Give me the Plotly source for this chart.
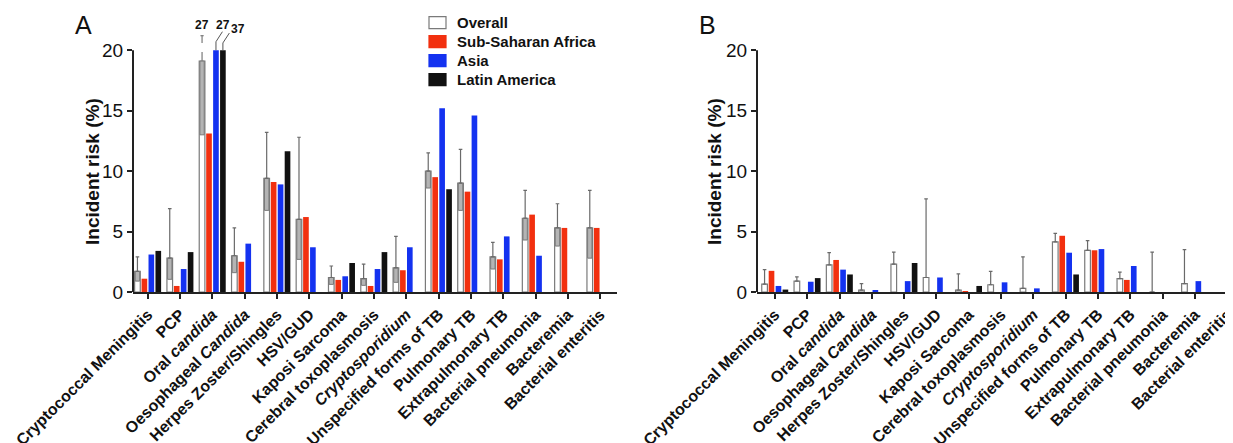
import plotly.graph_objects as go

categories = [
    "Cryptococcal Meningitis", "PCP", "Oral <i>candida</i>", "Oesophageal <i>Candida</i>",
    "Herpes Zoster/Shingles", "HSV/GUD", "Kaposi Sarcoma", "Cerebral toxoplasmosis",
    "<i>Cryptosporidium</i>", "Unspecified forms of TB", "Pulmonary TB", "Extrapulmonary TB",
    "Bacterial pneumonia", "Bacteremia", "Bacterial enteritis",
]
series_names = ["Overall", "Sub-Saharan Africa", "Asia", "Latin America"]

# Panel A
a_overall = [1.7, 2.8, 19.1, 3.0, 9.4, 6.0, 1.2, 1.1, 2.0, 10.0, 9.0, 2.9, 6.1, 5.3, 5.3]
a_lower = [0.9, 1.05, 13.0, 1.6, 6.75, 2.7, 0.63, 0.55, 0.8, 8.6, 6.75, 1.9, 4.3, 3.8, 2.8]
a_upper = [2.9, 6.9, 27, 5.3, 13.2, 12.8, 2.15, 2.3, 4.6, 11.5, 11.8, 4.1, 8.4, 7.3, 8.4]
a_ssa = [1.1, 0.5, 13.1, 2.5, 9.1, 6.2, 1.0, 0.5, 1.8, 9.5, 8.3, 2.7, 6.4, 5.3, 5.3]
a_asia = [3.1, 1.9, 27, 4.0, 8.9, 3.7, 1.3, 1.9, 3.7, 15.2, 14.6, 4.6, 3.0, None, None]
a_latam = [3.4, 3.3, 37, None, 11.65, None, 2.4, 3.3, None, 8.5, None, None, None, None, None]

# Panel B
b_overall = [0.65, 0.9, 2.25, 0.15, 2.3, 1.2, 0.15, 0.6, 0.3, 4.15, 3.45, 1.1, 0.0, 0.7, None]
b_upper = [1.85, 1.25, 3.25, 0.7, 3.3, 7.7, 1.5, 1.7, 2.9, 4.85, 4.25, 1.65, 3.3, 3.5, None]
b_ssa = [1.75, None, 2.65, None, None, None, 0.05, None, None, 4.65, 3.45, 1.0, None, None, None]
b_asia = [0.5, 0.85, 1.85, 0.15, 0.9, 1.2, None, 0.8, 0.3, 3.25, 3.55, 2.15, None, 0.9, None]
b_latam = [0.2, 1.15, 1.45, None, 2.4, None, 0.5, None, None, 1.45, None, None, None, None, None]

y_title = "Incident risk (%)"
y_ticks = [0, 5, 10, 15, 20]

AXIS_MAX = 20          # top of the drawn y axis; taller values are broken
BREAK_TOP = 21.2       # where a broken whisker stops
RED = "#F2300F"
BLUE = "#1432F0"
BLACK = "#111111"
FONT = "Liberation Sans"
series_fill = ["white", RED, BLUE, BLACK]

offsets = [-0.41, -0.195, 0.02, 0.235]
bw = 0.175
xs = list(range(len(categories)))

# figure geometry (page body has an 8px margin)
W, H = 1225, 435
T, B = 6, 151
PH = H - T - B


def py(px):
    """figure pixel row -> paper y"""
    return (H - B - px) / PH


fig = go.Figure()


def clip(vals):
    return [None if v is None else min(v, AXIS_MAX) for v in vals]


def add_panel(ax, overall, lower, upper, ssa, asia, latam):
    xa = "x" if ax == 1 else "x2"
    ya = "y" if ax == 1 else "y2"
    fig.add_trace(go.Bar(
        x=xs, y=clip(overall), offset=offsets[0], width=bw, name=series_names[0],
        marker=dict(color="white", line=dict(color="#7a7a7a", width=1.2)),
        xaxis=xa, yaxis=ya, showlegend=False))
    if lower is not None:
        fig.add_trace(go.Bar(
            x=xs, y=[min(o, AXIS_MAX) - l for o, l in zip(overall, lower)], base=lower,
            offset=offsets[0] + 0.02, width=bw - 0.04,
            marker=dict(color="#b4b4b4", line=dict(color="#7a7a7a", width=1)),
            xaxis=xa, yaxis=ya, showlegend=False, hoverinfo="skip"))
    for vals, col, off, nm in [(ssa, RED, offsets[1], series_names[1]),
                               (asia, BLUE, offsets[2], series_names[2]),
                               (latam, BLACK, offsets[3], series_names[3])]:
        fig.add_trace(go.Bar(
            x=xs, y=clip(vals), offset=off, width=bw, name=nm,
            marker=dict(color=col, line=dict(width=0)),
            xaxis=xa, yaxis=ya, showlegend=False))
    ex, ey, eu = [], [], []
    for i, (o, u) in enumerate(zip(overall, upper)):
        if o is None or u is None:
            continue
        if u > AXIS_MAX:
            cx = i + offsets[0] + bw / 2
            fig.add_shape(type="line", xref=xa, yref=ya, x0=cx, x1=cx, y0=o, y1=BREAK_TOP,
                          line=dict(color="#7a7a7a", width=1.2, dash="dash"))
            fig.add_shape(type="line", xref=xa, yref=ya, x0=cx - 0.05, x1=cx + 0.05,
                          y0=BREAK_TOP, y1=BREAK_TOP, line=dict(color="#7a7a7a", width=1.2))
            fig.add_annotation(x=cx, y=BREAK_TOP, xref=xa, yref=ya, text=f"<b>{u:g}</b>",
                               showarrow=False, yanchor="bottom", yshift=2,
                               font=dict(family=FONT, size=12, color="#111"))
            continue
        ex.append(i + offsets[0] + bw / 2)
        ey.append(o)
        eu.append(u - o)
    fig.add_trace(go.Scatter(
        x=ex, y=ey, mode="markers", marker=dict(size=1, opacity=0),
        error_y=dict(type="data", array=eu, arrayminus=[0] * len(eu), symmetric=False,
                     color="#6a6a6a", thickness=1.2, width=1.8),
        xaxis=xa, yaxis=ya, showlegend=False, hoverinfo="skip"))
    # leader labels for truncated regional bars
    for vals, off, k in [(asia, offsets[2], 0), (latam, offsets[3], 1)]:
        for i, v in enumerate(vals):
            if v is not None and v > AXIS_MAX:
                cx = i + off + bw / 2
                y_knee = AXIS_MAX + 0.7 - 0.1 * k
                y_end = AXIS_MAX + 1.53 - 0.11 * k
                fig.add_shape(type="line", xref=xa, yref=ya, x0=cx, x1=cx,
                              y0=AXIS_MAX, y1=y_knee, line=dict(color="#555", width=1))
                fig.add_shape(type="line", xref=xa, yref=ya, x0=cx, x1=cx + 0.2,
                              y0=y_knee, y1=y_end, line=dict(color="#555", width=1))
                if k == 0:
                    fig.add_annotation(x=cx + 0.22, y=y_end, xref=xa, yref=ya,
                                       text=f"<b>{v:g}</b>", showarrow=False,
                                       xanchor="center", yanchor="bottom", yshift=-2,
                                       font=dict(family=FONT, size=12, color="#111"))
                else:
                    fig.add_annotation(x=cx + 0.19, y=y_end, xref=xa, yref=ya,
                                       text=f"<b>{v:g}</b>", showarrow=False,
                                       xanchor="left", yanchor="middle", yshift=4,
                                       font=dict(family=FONT, size=12, color="#111"))
    fig.add_shape(type="line", xref=f"{xa} domain", yref=ya, x0=0, x1=0, y0=0, y1=AXIS_MAX,
                  line=dict(color="#222", width=2))


add_panel(1, a_overall, a_lower, a_upper, a_ssa, a_asia, a_latam)
add_panel(2, b_overall, None, b_upper, b_ssa, b_asia, b_latam)

# custom legend (swatch + label per series)
legend_rows = [14.7, 33.7, 52.7, 71.6]
for nm, fill, ry in zip(series_names, series_fill, legend_rows):
    fig.add_shape(type="rect", xref="paper", yref="paper",
                  x0=421 / W, x1=438 / W, y0=py(ry + 6), y1=py(ry - 6),
                  fillcolor=fill, line=dict(color="#7a7a7a" if fill == "white" else fill, width=1.2))
    fig.add_annotation(text=f"<b>{nm}</b>", x=447 / W, y=py(ry), xref="paper", yref="paper",
                       showarrow=False, xanchor="left", yanchor="middle",
                       font=dict(family=FONT, size=15, color="#111"))

# y-axis titles and panel letters
for xt, letter, xl in [(84, "A", 65), (706, "B", 689)]:
    fig.add_annotation(text=f"<b>{y_title}</b>", x=xt / W, y=py(164), xref="paper", yref="paper",
                       showarrow=False, textangle=-90, xanchor="center", yanchor="middle",
                       font=dict(family=FONT, size=19, color="#111"))
    fig.add_annotation(text=letter, x=xl / W, y=py(1), xref="paper", yref="paper",
                       showarrow=False, xanchor="left", yanchor="top",
                       font=dict(family=FONT, size=25, color="#111"))

xaxis_common = dict(
    tickmode="array", tickvals=xs, ticktext=[f"<b>{c}</b>" for c in categories],
    tickangle=-45, ticks="outside", ticklen=5, tickwidth=2, tickcolor="#222",
    showline=True, linecolor="#222", linewidth=2, showgrid=False, zeroline=False,
    tickfont=dict(family=FONT, size=16, color="#111"), automargin=False,
    ticklabeloverflow="allow",
)
yaxis_common = dict(
    range=[0, PH / 12.09], tickvals=y_ticks, ticks="outside", ticklen=5, tickwidth=2,
    tickcolor="#222", showline=False, showgrid=False, zeroline=False,
    tickfont=dict(family=FONT, size=19, color="#111"), automargin=False,
)
fig.update_layout(
    width=W, height=H, barmode="overlay", plot_bgcolor="white", paper_bgcolor="white",
    margin=dict(l=0, r=0, t=T, b=B, autoexpand=False),
    xaxis=dict(domain=[125 / W, 609 / W], range=[-0.46, 14.52], **xaxis_common),
    xaxis2=dict(domain=[749 / W, 1.0], range=[-0.557, 14.18], anchor="y2", **xaxis_common),
    yaxis=dict(anchor="x", **yaxis_common),
    yaxis2=dict(anchor="x2", **yaxis_common),
    showlegend=False,
)

fig.write_html("out.html")
